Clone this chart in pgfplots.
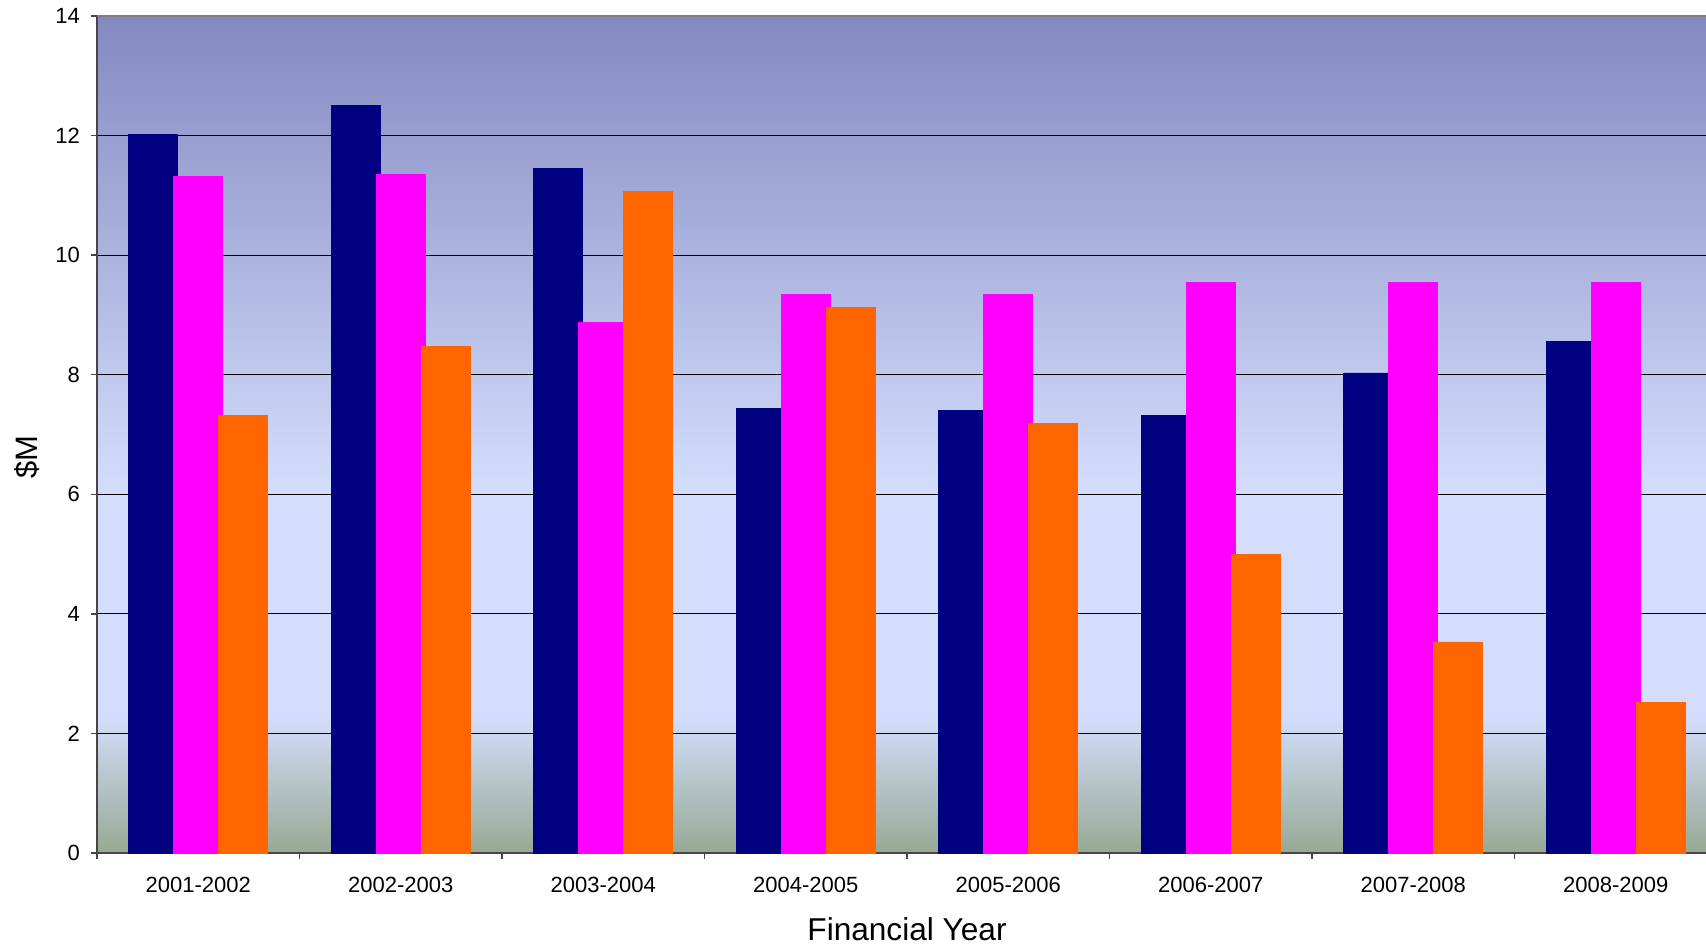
\documentclass[border=0pt]{standalone}
\usepackage{fontspec}
\setmainfont{Liberation Sans}
\usepackage{pgfplots}
\pgfplotsset{compat=1.18}

\definecolor{barnavy}{RGB}{0,0,128}
\definecolor{barmagenta}{RGB}{255,0,255}
\definecolor{barorange}{RGB}{255,102,0}
\definecolor{bgtop}{RGB}{132,137,193}
\definecolor{bglight}{RGB}{212,222,252}
\definecolor{bgbot}{RGB}{151,169,148}
\definecolor{axisgray}{RGB}{70,70,70}

% plot area runs 25bp (y=0) to 75bp (y=14)
\pgfdeclareverticalshading{plotbg}{100bp}{color(0bp)=(bgbot); color(25bp)=(bgbot);
  color(33.2bp)=(bglight); color(46.4bp)=(bglight); color(75bp)=(bgtop); color(100bp)=(bgtop)}

\pgfplotstableread{
x navy magenta orange
0 12.02 11.31 7.32
1 12.50 11.35 8.47
2 11.45 8.87 11.06
3 7.43 9.34 9.13
4 7.40 9.34 7.19
5 7.32 9.55 4.99
6 8.03 9.55 3.53
7 8.55 9.55 2.52
}\fundtable

\begin{document}
\begin{tikzpicture}
\useasboundingbox (0,0) rectangle (853pt,474.5pt);
\clip (0,0) rectangle (853pt,474.5pt);
\begin{axis}[
    at={(48.5pt,48pt)}, anchor=south west,
    scale only axis,
    width=810pt, height=418.5pt,
    xmin=-0.5, xmax=7.5,
    ymin=0, ymax=14,
    axis background/.style={shade, shading=plotbg},
    axis x line*=bottom, axis y line*=left,
    axis line style={axisgray, line width=0.9pt},
    tick align=outside,
    major tick length=3pt, minor tick length=3pt,
    tick style={axisgray, line width=0.7pt},
    xtick={0,...,7},
    xticklabels={2001-2002,2002-2003,2003-2004,2004-2005,2005-2006,2006-2007,2007-2008,2008-2009},
    major x tick style={draw=none},
    minor xtick={-0.5,0.5,...,7.5},
    ytick={0,2,...,14},
    ymajorgrids,
    major grid style={black, line width=0.5pt},
    ticklabel style={font=\fontsize{11}{13}\selectfont},
    xticklabel style={yshift=-5.3pt},
    yticklabel style={xshift=-2pt},
    /pgf/number format/assume math mode=true,
    xlabel={Financial Year},
    ylabel={\$M},
    every axis x label/.style={at={(axis description cs:0.5,0)}, anchor=base,
        yshift=-43.5pt, inner sep=0pt, font=\fontsize{15.8}{19}\selectfont},
    every axis y label/.style={at={(axis description cs:0,0.473)}, xshift=-35pt,
        rotate=90, anchor=center, font=\fontsize{15.5}{19}\selectfont},
    ybar, bar width=24.5pt,
    clip=false,
]
\addplot[fill=barnavy, draw=barnavy, bar shift=-22.5pt] table[x=x, y=navy] {\fundtable};
\addplot[fill=barmagenta, draw=barmagenta, bar shift=0pt] table[x=x, y=magenta] {\fundtable};
\addplot[fill=barorange, draw=barorange, bar shift=22.5pt] table[x=x, y=orange] {\fundtable};
\draw[gray, line width=1pt] (rel axis cs:0,1) -- (rel axis cs:1,1);
\end{axis}
\end{tikzpicture}
\end{document}
